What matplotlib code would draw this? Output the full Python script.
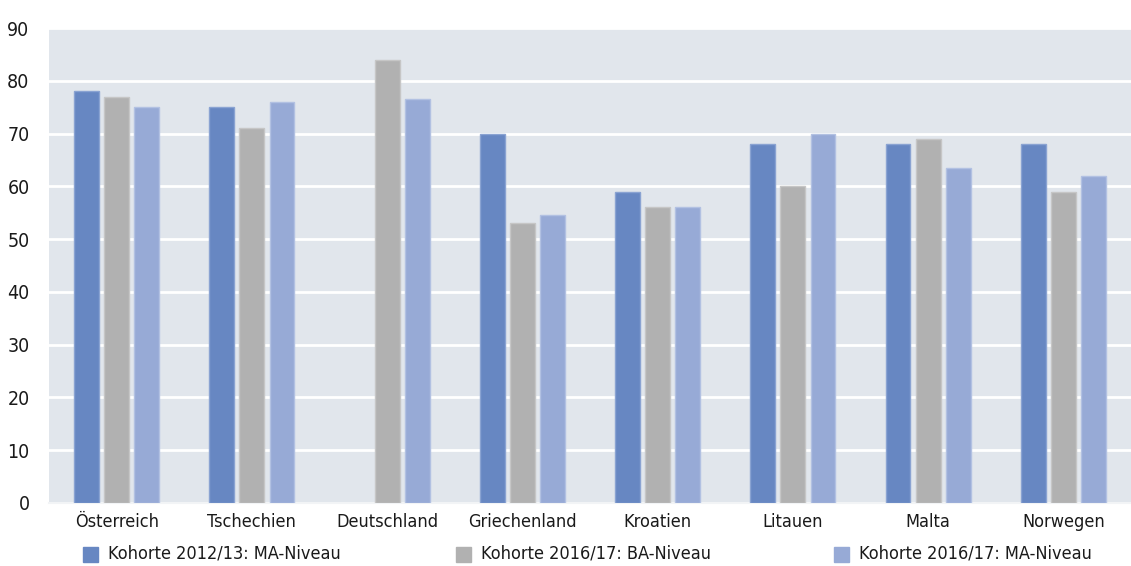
import numpy as np
import matplotlib.pyplot as plt
from matplotlib.patches import Rectangle

countries = ['Österreich', 'Tschechien', 'Deutschland', 'Griechenland',
             'Kroatien', 'Litauen', 'Malta', 'Norwegen']
series_names = ['Kohorte 2012/13: MA-Niveau',
                'Kohorte 2016/17: BA-Niveau',
                'Kohorte 2016/17: MA-Niveau']
ma_2012 = [78, 75, np.nan, 70, 59, 68, 68, 68]
ba_2016 = [77, 71, 84, 53, 56, 60, 69, 59]
ma_2016 = [75, 76, 76.5, 54.5, 56, 70, 63.5, 62]
yticks = [0, 10, 20, 30, 40, 50, 60, 70, 80, 90]

colors = ['#6787c2', '#b1b1b1', '#97aad6']
edges = ['#8aa3d2', '#c6c6c6', '#b2c1e2']
legend_x = [83, 456, 834]  # left edge of legend squares, pixels

plt.rcParams['font.family'] = ['DejaVu Sans']
plt.rcParams['font.stretch'] = 'condensed'
fs = 13

W, H = 1131, 566
fig = plt.figure(figsize=(W / 100, H / 100), dpi=100)
ax = fig.add_axes([49 / W, 1 - 503 / H, 1082 / W, 475 / H])
ax.set_facecolor('#e1e6ec')

x = np.arange(len(countries))
width = 0.183
step = 0.222
for i, vals in enumerate([ma_2012, ba_2016, ma_2016]):
    ax.bar(x + (i - 1) * step, vals, width, color=colors[i],
           edgecolor=edges[i], linewidth=1, zorder=3)

ax.set_xlim(-0.5, len(countries) - 0.5)
ax.set_ylim(0, 90)
ax.set_yticks(yticks)
ax.set_xticks(x)
ax.set_xticklabels(countries, fontsize=fs, color='#1a1a1a')
ax.tick_params(axis='y', labelsize=14, colors='#1a1a1a', length=0, pad=14)
ax.tick_params(axis='x', length=0, pad=7)
ax.grid(axis='y', color='white', linewidth=2, zorder=1)
for s in ['top', 'right', 'left']:
    ax.spines[s].set_visible(False)
ax.spines['bottom'].set_color('#f2f4f6')
ax.spines['bottom'].set_linewidth(1.5)

# legend drawn by hand to match the reference spacing
for px, name, c in zip(legend_x, series_names, colors):
    fig.patches.append(Rectangle((px / W, 1 - 562 / H), 15 / W, 15 / H,
                                 transform=fig.transFigure, color=c))
    fig.text((px + 25) / W, 1 - 554 / H, name, fontsize=fs,
             color='#1a1a1a', va='center', ha='left')

plt.savefig('out.png', dpi=100)
